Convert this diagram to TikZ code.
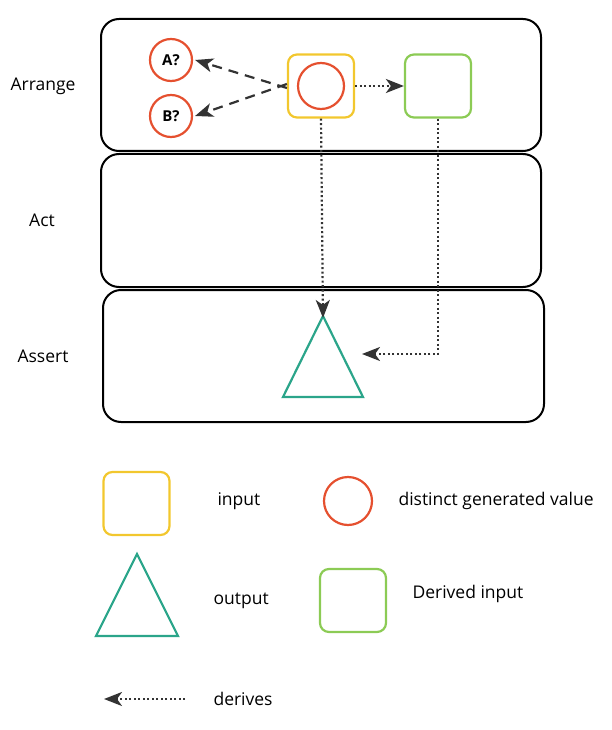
\documentclass[tikz,border=0pt]{standalone}
\usepackage{fontspec}
\setmainfont{Open Sans}
\usetikzlibrary{arrows.meta}
\definecolor{yel}{HTML}{F2C72E}
\definecolor{grn}{HTML}{8CCB55}
\definecolor{rd}{HTML}{E5502F}
\definecolor{tl}{HTML}{2BA58A}
\definecolor{dk}{HTML}{333333}
\begin{document}
\begin{tikzpicture}[x=1pt,y=-1pt,
 lane/.style={draw=black,line width=2pt,rounded corners=18pt},
 sq/.style={draw,line width=2.2pt,rounded corners=9pt,minimum width=66pt,minimum height=63pt},
 circ/.style={draw=rd,circle,line width=2.2pt,minimum size=46pt},
 lbl/.style={font=\fontsize{17.5}{20}\selectfont},
 tri/.style={draw=tl,line width=2.2pt,fill=none},
 dot/.style={dk,line width=2.2pt,dash pattern=on 2pt off 2.5pt},
 tip/.style={-{Stealth[length=18pt,width=14pt,inset=5pt]}},
 dsh/.style={dk,line width=2.2pt,dash pattern=on 10pt off 7pt}]
\useasboundingbox (0,0) rectangle (611,730);
\draw[lane] (101,19) rectangle (541,151);
\draw[lane] (101,154) rectangle (541,287);
\draw[lane] (103,290) rectangle (544,422);
\node[lbl] (l1) at (43,86) {Arrange};
\node[lbl] (l2) at (42,220) {Act};
\node[lbl] (l3) at (43,356) {Assert};
\node[circ,minimum size=42pt,font=\bfseries\fontsize{15}{17}\selectfont] (a) at (171,60) {A?};
\node[circ,minimum size=42pt,font=\bfseries\fontsize{15}{17}\selectfont] (b) at (171,116) {B?};
\node[sq,draw=yel] (y) at (321,86) {};
\node[circ] (c) at (321,86) {};
\node[sq,draw=grn] (g) at (438,86) {};
\coordinate (t1) at (323,316);
\coordinate (t2) at (283,397);
\coordinate (t3) at (363,397);
\draw[tri,line join=miter] (t1) -- (t2) -- (t3) -- cycle;
\draw[dsh,tip] ([yshift=-2pt]y.west) -- ([xshift=2pt]a.east);
\draw[dsh,tip] ([yshift=2pt]y.west) -- ([xshift=2pt]b.east);
\draw[dot,tip] (y.east) -- (g.west);
\draw[dot,tip] (y.south) -- ([yshift=-2pt]t1);
\coordinate (r) at (362,354);
\draw[dot,tip] (g.south) |- (r);
% legend
\node[sq,draw=yel] (ly) at (136.5,503.5) {};
\node[lbl,anchor=west] (li) at (214,501) {input};
\node[circ,minimum size=48pt] (lc) at (348,501) {};
\node[lbl,anchor=west] (ld) at (395,501) {distinct generated value};
\coordinate (u1) at (137,554);
\coordinate (u2) at (96,636);
\coordinate (u3) at (178,636);
\draw[tri] (u1) -- (u2) -- (u3) -- cycle;
\node[lbl,anchor=west] (lo) at (210,601) {output};
\node[sq,draw=grn] (lg) at (353,600.5) {};
\node[lbl,anchor=west] (lr) at (409,594) {Derived input};
\coordinate (d1) at (185,699);
\coordinate (d2) at (104,699);
\draw[dot,tip] (d1) -- (d2);
\node[lbl,anchor=west] (lv) at (210,699) {derives};
\end{tikzpicture}
\end{document}
